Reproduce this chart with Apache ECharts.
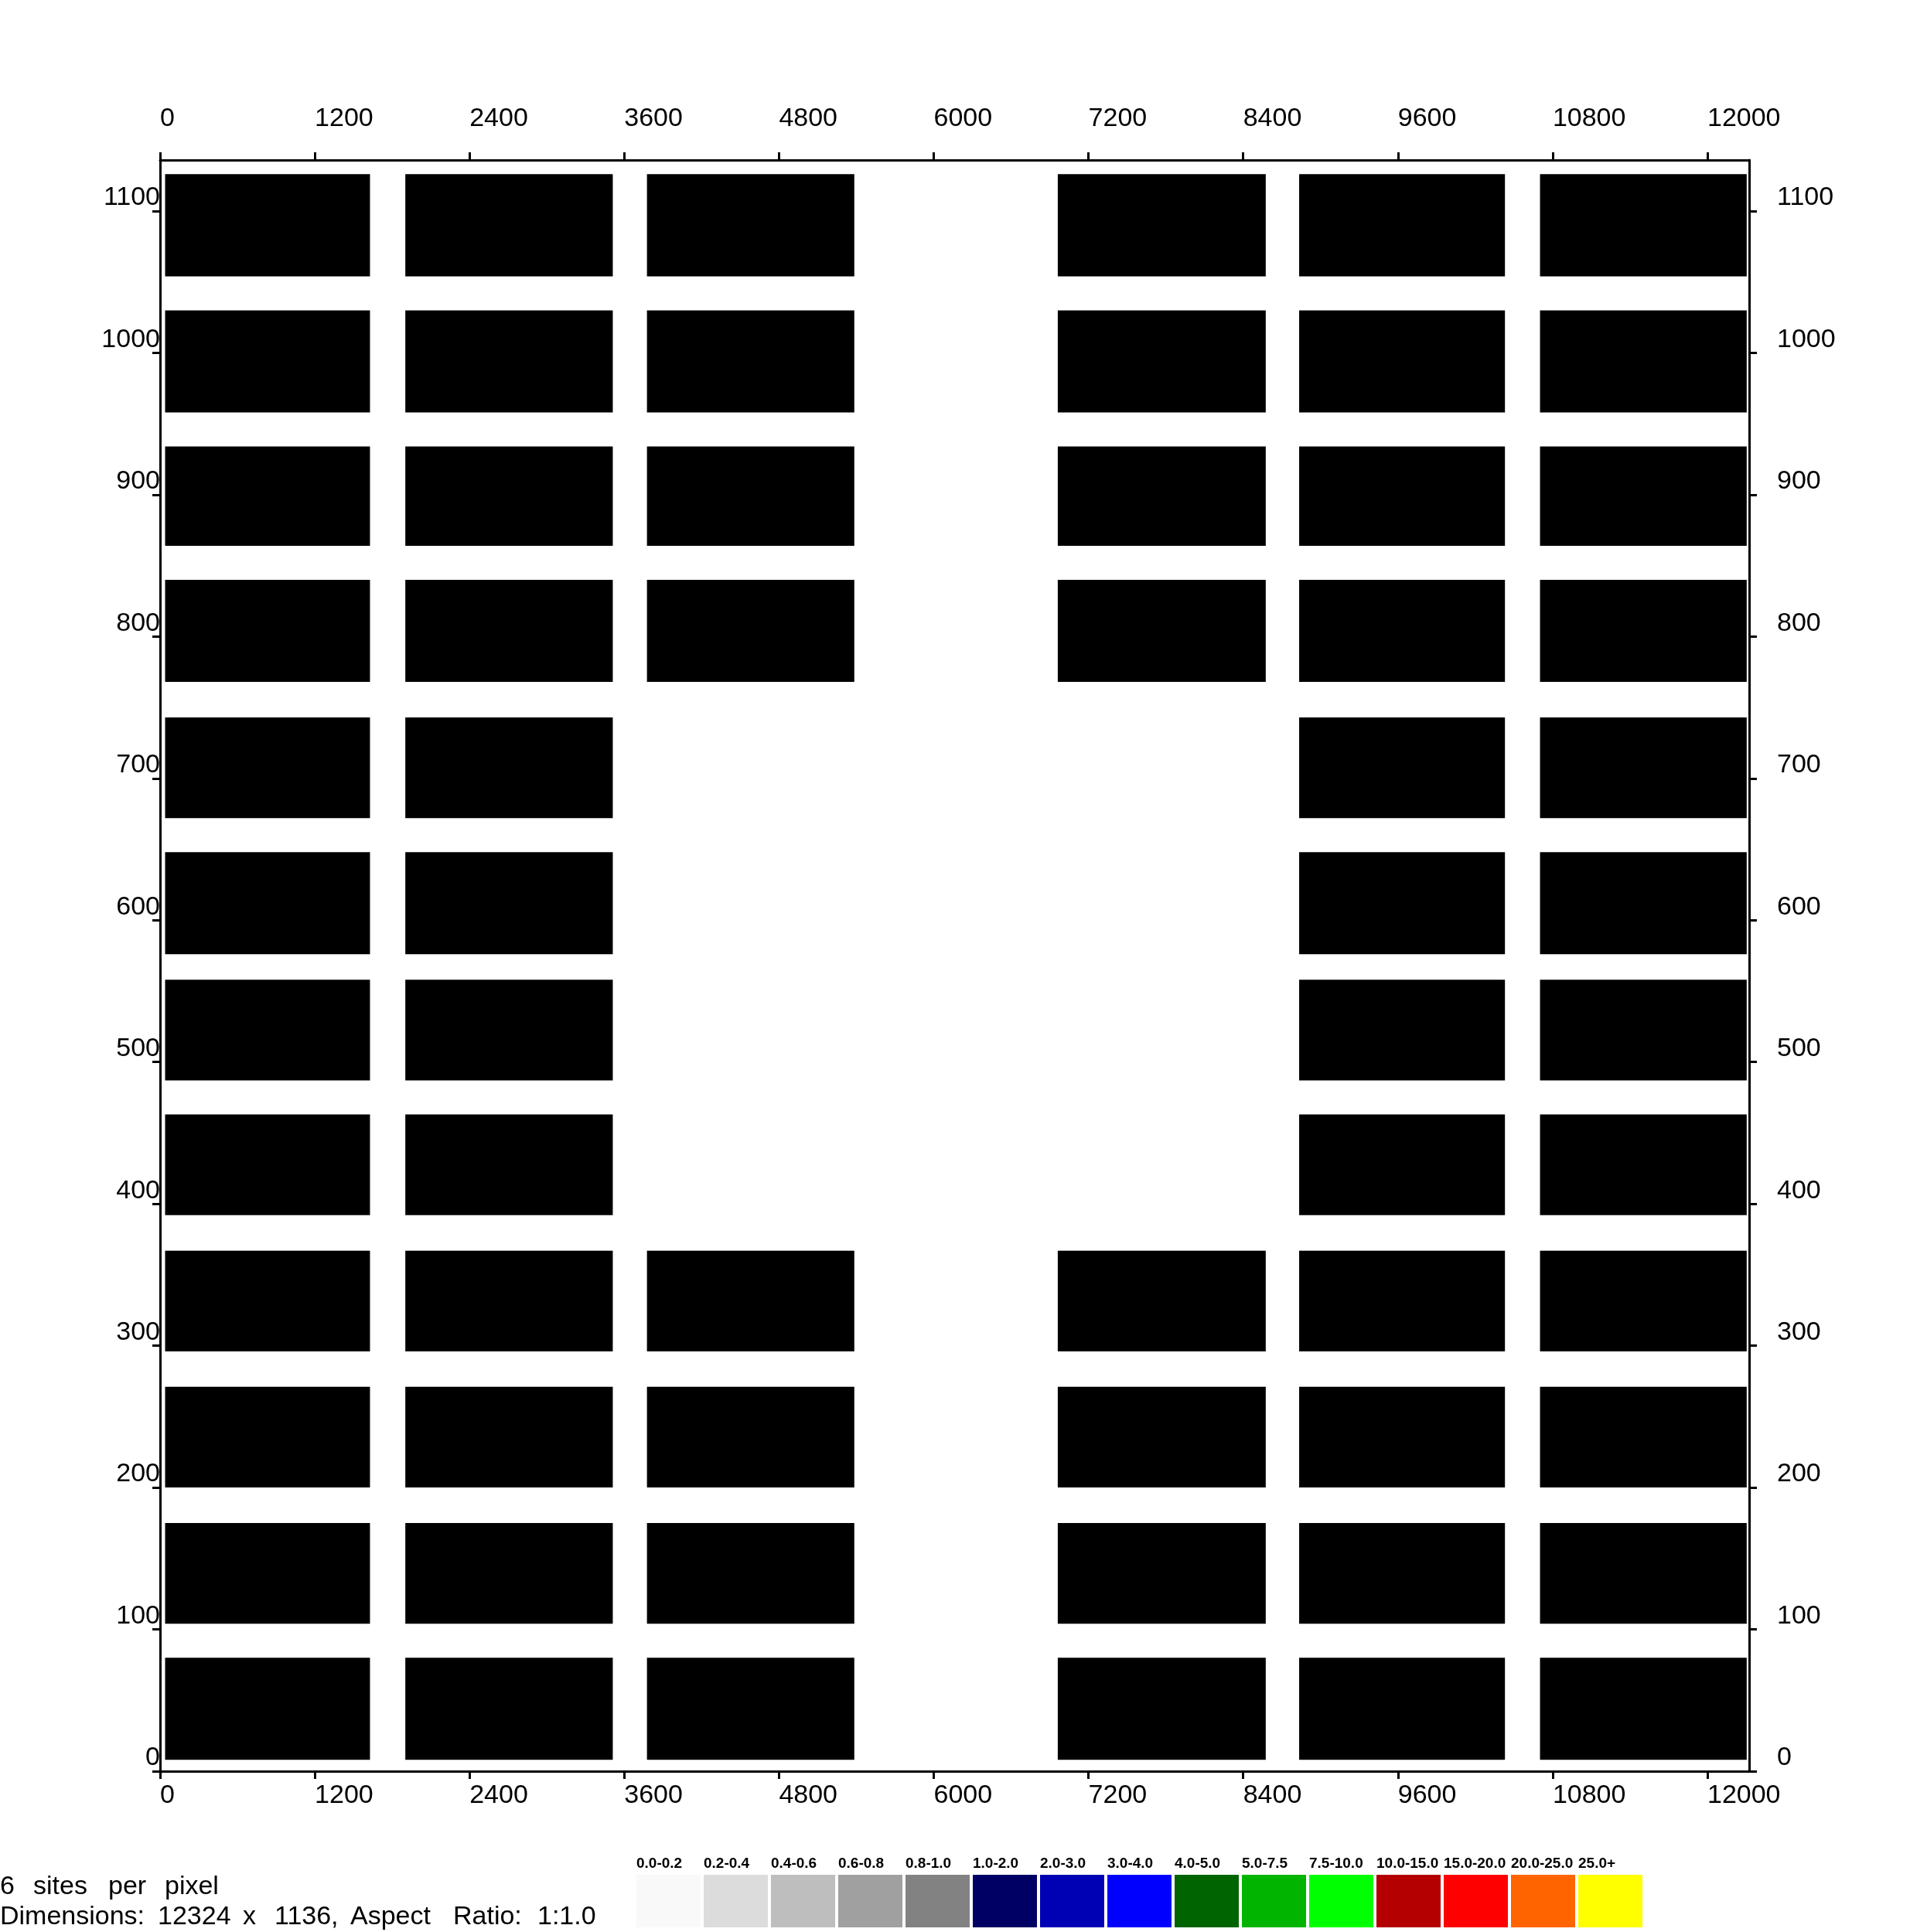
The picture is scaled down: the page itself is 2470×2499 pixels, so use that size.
<!DOCTYPE html>
<html>
<head>
<meta charset="utf-8">
<script src="https://cdn.jsdelivr.net/npm/echarts@6/dist/echarts.min.js"></script>
<style>
html,body{margin:0;padding:0;background:#fff;}
#chart{width:2470px;height:2499px;}
</style>
</head>
<body>
<div id="chart"></div>
<script>
// ---- data ----
const xTicks = [0, 1200, 2400, 3600, 4800, 6000, 7200, 8400, 9600, 10800, 12000];
const yTicks = [0, 100, 200, 300, 400, 500, 600, 700, 800, 900, 1000, 1100];
const xMax = 12324;
const yMax = 1136;
const colStart = [39, 1902, 3776, 6962, 8834, 10702];
const colEnd   = [1628, 3511, 5384, 8575, 10430, 12305];
const rowBottom = [8, 104, 200, 296, 392, 487, 576, 672, 768, 864, 958, 1054];
const rowTop    = [80, 175, 271, 367, 463, 558, 648, 743, 840, 934, 1030, 1126];
const rowCols = [
  [0,1,2,3,4,5], [0,1,2,3,4,5], [0,1,2,3,4,5], [0,1,2,3,4,5],
  [0,1,4,5], [0,1,4,5], [0,1,4,5], [0,1,4,5],
  [0,1,2,3,4,5], [0,1,2,3,4,5], [0,1,2,3,4,5], [0,1,2,3,4,5]
];
const legendLabels = ['0.0-0.2','0.2-0.4','0.4-0.6','0.6-0.8','0.8-1.0','1.0-2.0','2.0-3.0','3.0-4.0','4.0-5.0','5.0-7.5','7.5-10.0','10.0-15.0','15.0-20.0','20.0-25.0','25.0+'];
const legendColors = ['#f9f9f9','#dcdcdc','#bebebe','#a0a0a0','#828282','#000064','#0000b4','#0000ff','#006400','#00b400','#00ff00','#b40000','#ff0000','#ff6400','#ffff00'];
const infoLine1 = ['6', 'sites', 'per', 'pixel'];
const infoLine2 = ['Dimensions:', '12324', 'x', '1136,', 'Aspect', 'Ratio:', '1:1.0'];

// ---- build ----
const blocks = [];
rowCols.forEach((cols, r) => {
  cols.forEach(c => blocks.push([colStart[c], colEnd[c], rowBottom[r], rowTop[r]]));
});

const FONT = "'Liberation Sans', Arial, sans-serif";
const fmt = v => String(v);
const lineStyle = {color: '#000', width: 3};

function xAxisCfg(pos, margin) {
  return {
    type: 'value', min: 0, max: xMax, position: pos,
    axisLine: {show: true, onZero: false, lineStyle},
    axisTick: {show: true, customValues: xTicks, length: 10, inside: false, lineStyle},
    axisLabel: {customValues: xTicks, formatter: fmt, align: 'left', margin,
      fontSize: 34, lineHeight: 34, color: '#000', fontFamily: FONT},
    splitLine: {show: false}
  };
}
function yAxisCfg(pos, margin, align) {
  return {
    type: 'value', min: 0, max: yMax, position: pos,
    axisLine: {show: true, onZero: false, lineStyle},
    axisTick: {show: true, customValues: yTicks, length: 10, inside: false, lineStyle},
    axisLabel: {customValues: yTicks, formatter: fmt, align, verticalAlign: 'bottom', margin,
      fontSize: 34, lineHeight: 34, color: '#000', fontFamily: FONT},
    splitLine: {show: false}
  };
}

const graphics = [];
const lx0 = 823, lpitch = 87, lw = 83, ltop = 2425, lh = 68;
legendLabels.forEach((t, i) => {
  graphics.push({type: 'rect', shape: {x: lx0 + i * lpitch, y: ltop, width: lw, height: lh},
    style: {fill: legendColors[i]}});
  graphics.push({type: 'text', x: lx0 + i * lpitch, y: 2411,
    style: {text: t, font: "bold 19px " + FONT, fill: '#000', align: 'left', verticalAlign: 'middle'}});
});
const line1X = [0, 43, 140, 213];
const line2X = [0, 204, 314, 355, 453, 586, 695];
infoLine1.forEach((w, i) => graphics.push({type: 'text', x: line1X[i], y: 2441,
  style: {text: w, font: "34px " + FONT, fill: '#000', align: 'left', verticalAlign: 'middle'}}));
infoLine2.forEach((w, i) => graphics.push({type: 'text', x: line2X[i], y: 2480,
  style: {text: w, font: "34px " + FONT, fill: '#000', align: 'left', verticalAlign: 'middle'}}));

const chart = echarts.init(document.getElementById('chart'), null, {renderer: 'canvas'});
chart.setOption({
  animation: false,
  backgroundColor: '#fff',
  grid: {left: 207, top: 207, right: 208, bottom: 208, containLabel: false},
  xAxis: [xAxisCfg('bottom', 15), xAxisCfg('top', 36)],
  yAxis: [yAxisCfg('left', 0, 'right'), yAxisCfg('right', 36, 'left')],
  series: [{
    type: 'custom',
    xAxisIndex: 0, yAxisIndex: 0,
    encode: {x: [0, 1], y: [2, 3]},
    data: blocks,
    renderItem: function (params, api) {
      const p0 = api.coord([api.value(0), api.value(3)]);
      const p1 = api.coord([api.value(1), api.value(2)]);
      return {type: 'rect', shape: {x: p0[0], y: p0[1], width: p1[0] - p0[0], height: p1[1] - p0[1]},
        style: {fill: '#000'}};
    }
  }],
  graphic: graphics
});
</script>
</body>
</html>
